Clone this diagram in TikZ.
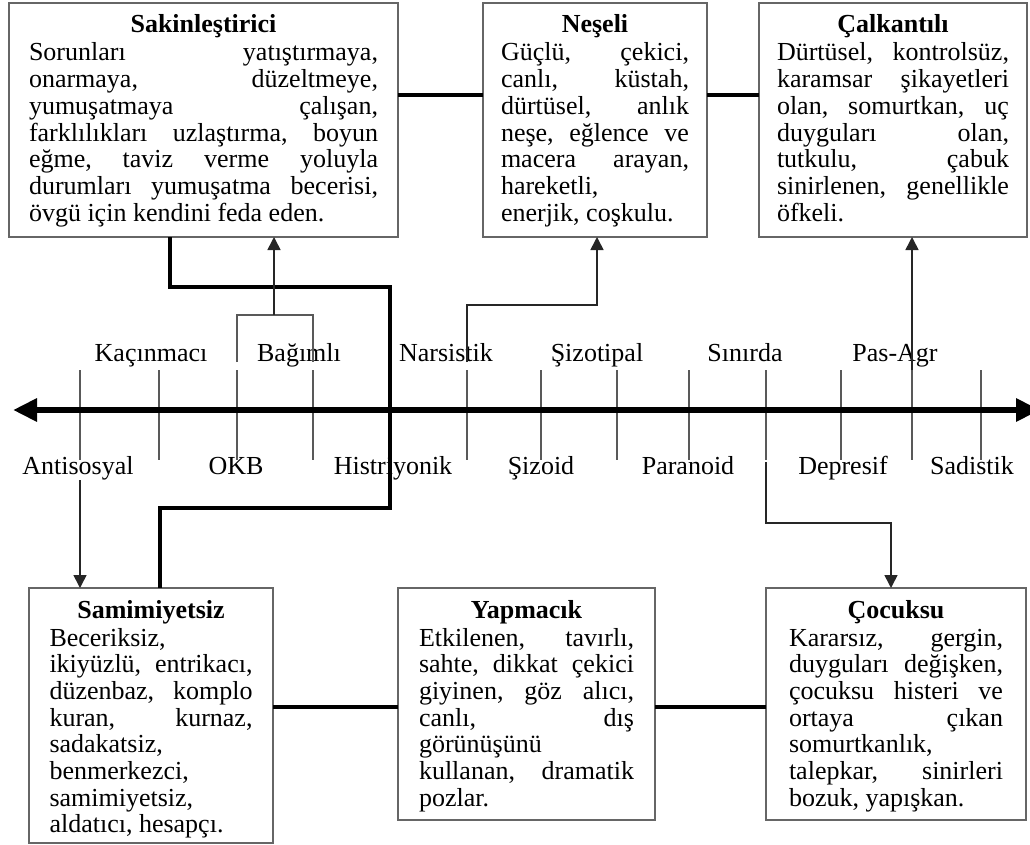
\documentclass[tikz,border=0pt]{standalone}
\usepackage{fontspec}
\setmainfont{Liberation Serif}
\usetikzlibrary{arrows.meta}
\frenchspacing
\newcommand\diagfont{\fontsize{26pt}{26.7pt}\selectfont}
% justified line and left-aligned line of a panel text
\newcommand\jl[1]{\hbox to\linewidth{\spaceskip=.25em plus 1fil\relax#1}}
\newcommand\lline[1]{\hbox to\linewidth{#1\hfil}}
% panel content: width, height, bold title, body lines
\newcommand\panelbody[4]{\parbox[c][#2pt][t]{#1pt}{\centering\bfseries\rule{0pt}{30pt}#3\par\mdseries\vspace{1.3pt}#4}}

\tikzset{
  panel/.style={draw=black!60, line width=1.8pt, fill=white, inner ysep=0pt,
    outer sep=0pt, anchor=north west, font=\diagfont},
  link/.style={line width=4.5pt, line join=miter},
  tickline/.style={draw=black!65, line width=1.6pt},
  pointer/.style={draw=black!85, line width=1.6pt, -{Triangle[length=13pt,width=13pt]}},
  axisline/.style={line width=6pt,
    {Triangle[length=24pt,width=22pt]}-{Triangle[length=24pt,width=22pt]}},
  axislab/.style={font=\diagfont, anchor=base, inner sep=0pt}
}

\begin{document}
\begin{tikzpicture}[x=1pt,y=-1pt]
\useasboundingbox (0,0) rectangle (1030,845);

% ---- axis with ticks
\foreach \x in {80,159,237,313,390,467,541,617,689,766,841,912,981}
  \draw[tickline] (\x,370) -- (\x,460);
\coordinate (axl) at (13,410);
\coordinate (axr) at (1040,410);
\draw[axisline] (axl) -- (axr);

% ---- axis labels
\node[axislab] (kac) at (151,361) {Kaçınmacı};
\node[axislab] (bag) at (299,361) {Bağımlı};
\node[axislab] (nar) at (446,361) {Narsistik};
\node[axislab] (sizt) at (597,361) {Şizotipal};
\node[axislab] (sin) at (745,361) {Sınırda};
\node[axislab] (pas) at (895,361) {Pas-Agr};
\node[axislab] (ant) at (78,474) {Antisosyal};
\node[axislab] (okb) at (236,474) {OKB};
\node[axislab] (his) at (393,474) {Histriyonik};
\node[axislab] (siz) at (541,474) {Şizoid};
\node[axislab] (par) at (688,474) {Paranoid};
\node[axislab] (dep) at (843,474) {Depresif};
\node[axislab] (sad) at (972,474) {Sadistik};

% ---- upper panels
\node[panel, inner xsep=20pt] (sak) at (9,3) {\panelbody{349}{234}{Sakinleştirici}{%
  \jl{Sorunları yatıştırmaya,}
  \jl{onarmaya, düzeltmeye,}
  \jl{yumuşatmaya çalışan,}
  \jl{farklılıkları uzlaştırma, boyun}
  \jl{eğme, taviz verme yoluyla}
  \jl{durumları yumuşatma becerisi,}
  \lline{övgü için kendini feda eden.}}};

\node[panel, inner xsep=18pt] (nes) at (483,3) {\panelbody{188}{234}{Neşeli}{%
  \jl{Güçlü, çekici,}
  \jl{canlı, küstah,}
  \jl{dürtüsel, anlık}
  \jl{neşe, eğlence ve}
  \jl{macera arayan,}
  \lline{hareketli,}
  \lline{enerjik, coşkulu.}}};

\node[panel, inner xsep=18pt] (cal) at (759,3) {\panelbody{232}{234}{Çalkantılı}{%
  \jl{Dürtüsel, kontrolsüz,}
  \jl{karamsar şikayetleri}
  \jl{olan, somurtkan, uç}
  \jl{duyguları olan,}
  \jl{tutkulu, çabuk}
  \jl{sinirlenen, genellikle}
  \lline{öfkeli.}}};

% ---- lower panels
\node[panel, inner xsep=20.5pt] (sam) at (29,588) {\panelbody{203}{255}{Samimiyetsiz}{%
  \lline{Beceriksiz,}
  \jl{ikiyüzlü, entrikacı,}
  \jl{düzenbaz, komplo}
  \jl{kuran, kurnaz,}
  \lline{sadakatsiz,}
  \lline{benmerkezci,}
  \lline{samimiyetsiz,}
  \lline{aldatıcı, hesapçı.}}};

\node[panel, inner xsep=21pt] (yap) at (398,588) {\panelbody{215}{232}{Yapmacık}{%
  \jl{Etkilenen, tavırlı,}
  \jl{sahte, dikkat çekici}
  \jl{giyinen, göz alıcı,}
  \jl{canlı, dış}
  \lline{görünüşünü}
  \jl{kullanan, dramatik}
  \lline{pozlar.}}};

\node[panel, inner xsep=23pt] (coc) at (766,588) {\panelbody{214}{232}{Çocuksu}{%
  \jl{Kararsız, gergin,}
  \jl{duyguları değişken,}
  \jl{çocuksu histeri ve}
  \jl{ortaya çıkan}
  \lline{somurtkanlık,}
  \jl{talepkar, sinirleri}
  \lline{bozuk, yapışkan.}}};

% ---- thick links between panels
\coordinate (ytop) at (0,95);
\coordinate (ybot) at (0,707);
\draw[link] (sak.east |- ytop) -- (nes.west |- ytop);
\draw[link] (nes.east |- ytop) -- (cal.west |- ytop);
\draw[link] (sam.east |- ybot) -- (yap.west |- ybot);
\draw[link] (yap.east |- ybot) -- (coc.west |- ybot);

% ---- thick link Sakinleştirici -> Samimiyetsiz through the axis
\coordinate (k1) at (170,287);
\coordinate (k2) at (390,287);
\coordinate (k3) at (390,508);
\coordinate (k4) at (160,508);
\draw[link] (sak.south -| k1) -- (k1) -- (k2) -- (k3) -- (k4) -- (sam.north -| k4);

% ---- Bağımlı bracket -> Sakinleştirici
\coordinate (b1) at (237,362);
\coordinate (b2) at (313,362);
\coordinate (bm) at (274,315);
\draw[tickline] (b1) -- (b1 |- bm) -- (b2 |- bm) -- (b2);
\draw[pointer] (bm) -- (sak.south -| bm);

% ---- Narsistik -> Neşeli
\coordinate (n1) at (467,362);
\coordinate (n2) at (597,305);
\draw[pointer] (n1) |- (n2) -- (nes.south -| n2);

% ---- Pas-Agr -> Çalkantılı
\coordinate (c1) at (912,370);
\draw[pointer] (c1) -- (cal.south -| c1);

% ---- Antisosyal -> Samimiyetsiz
\coordinate (a1) at (80,480);
\draw[pointer] (a1) -- (sam.north -| a1);

% ---- Sınırda -> Çocuksu
\coordinate (s1) at (766,462);
\coordinate (s2) at (891,523);
\draw[pointer] (s1) |- (s2) -- (coc.north -| s2);
\end{tikzpicture}
\end{document}
